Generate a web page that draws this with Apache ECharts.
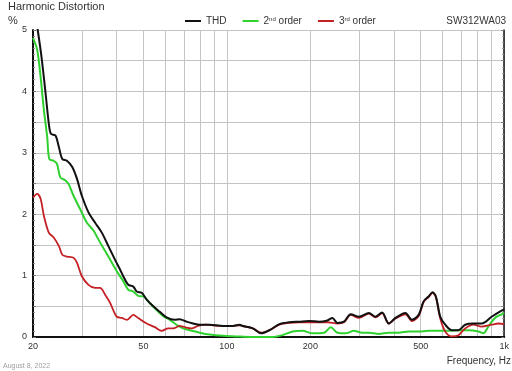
<!DOCTYPE html>
<html>
<head>
<meta charset="utf-8">
<script src="https://cdn.jsdelivr.net/npm/echarts@6/dist/echarts.min.js"></script>
<style>html,body{margin:0;padding:0;background:#fff}#c{width:512px;height:371px}</style>
</head>
<body>
<div id="c"></div>
<script>
// Frequencies (Hz) and values (%)
const thdFreq = [20, 20.8, 21.45, 22.2, 22.8, 23.2, 24.1, 24.8, 25.5, 26.5, 27.7, 28.8, 30.0, 31.7, 33.5, 35.4, 37.4, 39.5, 41.2, 42.3, 44.1, 46.0, 47.3, 49.3, 51.4, 54.3, 57.3, 60.6, 64.9, 67.6, 71.5, 75.5, 79.8, 86.7, 96.8, 105.1, 111.1, 114.1, 124.0, 132.9, 142.3, 154.6, 167.9, 182.4, 198.0, 215.1, 230.3, 240.1, 250.2, 264.4, 279.5, 299.3, 325.1, 343.6, 362.8, 383.5, 405.3, 440.2, 464.8, 491.3, 512, 533.6, 551.6, 566.9, 587.9, 612.7, 647, 683.9, 722.8, 774, 828.9, 900.3, 977.9, 1000];
const thdVal = [5.5, 5.0, 4.57, 3.97, 3.48, 3.31, 3.28, 3.09, 2.90, 2.87, 2.77, 2.58, 2.30, 2.03, 1.86, 1.70, 1.48, 1.26, 1.10, 0.99, 0.85, 0.82, 0.74, 0.72, 0.61, 0.50, 0.41, 0.32, 0.28, 0.29, 0.25, 0.22, 0.20, 0.20, 0.18, 0.18, 0.20, 0.18, 0.14, 0.06, 0.11, 0.21, 0.24, 0.25, 0.26, 0.25, 0.27, 0.31, 0.23, 0.25, 0.37, 0.33, 0.39, 0.33, 0.40, 0.22, 0.31, 0.39, 0.28, 0.36, 0.58, 0.66, 0.73, 0.66, 0.33, 0.20, 0.11, 0.11, 0.20, 0.22, 0.22, 0.33, 0.43, 0.45];

const h2Freq = [20, 20.7, 21.3, 21.9, 22.5, 22.9, 23.75, 24.4, 25.1, 26.2, 26.9, 28.0, 29.6, 31.3, 33.1, 34.4, 36.4, 38.5, 40.1, 42.3, 44.1, 46.0, 47.9, 50.0, 52.8, 55.8, 58.9, 62.3, 65.8, 69.5, 73.5, 79.8, 86.7, 96.8, 108.1, 120.6, 146.2, 158.8, 172.5, 187.4, 203.5, 224.1, 236.9, 250.2, 268.2, 287.2, 307.6, 325.1, 353.1, 383.5, 416.5, 452.4, 491.3, 533.6, 579.7, 629.6, 683.9, 742.8, 806.6, 840.6, 876.1, 925.9, 977.9, 1000];
const h2Val = [4.87, 4.68, 4.24, 3.69, 3.26, 2.90, 2.87, 2.82, 2.60, 2.55, 2.49, 2.30, 2.08, 1.86, 1.73, 1.59, 1.40, 1.21, 1.07, 0.91, 0.77, 0.74, 0.67, 0.66, 0.55, 0.44, 0.34, 0.28, 0.20, 0.14, 0.11, 0.07, 0.04, 0.02, 0.01, 0.0, 0.0, 0.03, 0.09, 0.10, 0.06, 0.07, 0.16, 0.07, 0.06, 0.10, 0.07, 0.07, 0.05, 0.07, 0.07, 0.09, 0.09, 0.10, 0.10, 0.10, 0.11, 0.11, 0.09, 0.06, 0.17, 0.31, 0.37, 0.39];

const h3Freq = [20, 20.7, 21.3, 21.9, 22.8, 23.75, 24.8, 25.5, 26.5, 28.0, 28.8, 30.0, 31.7, 33.5, 34.9, 36.4, 37.9, 39.0, 40.1, 41.8, 43.6, 46.0, 47.9, 51.4, 55.0, 58.2, 61.4, 64.0, 67.6, 70.5, 74.5, 78.7, 84.3, 94.2, 105.1, 111.1, 114.1, 124.0, 132.9, 142.3, 154.6, 167.9, 182.4, 198.0, 215.1, 230.3, 240.1, 250.2, 264.4, 279.5, 299.3, 325.1, 343.6, 362.8, 383.5, 405.3, 440.2, 464.8, 491.3, 512, 533.6, 551.6, 566.9, 587.9, 612.7, 647, 683.9, 722.8, 774, 828.9, 900.3, 951.6, 1000];
const h3Val = [2.27, 2.33, 2.25, 1.97, 1.70, 1.62, 1.48, 1.34, 1.31, 1.29, 1.21, 0.99, 0.85, 0.80, 0.80, 0.69, 0.56, 0.43, 0.33, 0.31, 0.28, 0.36, 0.31, 0.22, 0.16, 0.10, 0.14, 0.14, 0.18, 0.16, 0.14, 0.18, 0.20, 0.18, 0.18, 0.19, 0.18, 0.14, 0.07, 0.11, 0.20, 0.23, 0.24, 0.24, 0.24, 0.24, 0.23, 0.22, 0.24, 0.36, 0.31, 0.38, 0.32, 0.39, 0.22, 0.30, 0.37, 0.26, 0.34, 0.57, 0.65, 0.72, 0.65, 0.30, 0.09, 0.01, 0.03, 0.14, 0.20, 0.17, 0.20, 0.22, 0.21];

const gridFreqs = [20, 30, 40, 50, 60, 70, 80, 90, 100, 200, 300, 400, 500, 600, 700, 800, 900, 1000];
const labelFreqs = [20, 50, 100, 200, 500, 1000];

const pairs = (f, v) => f.map((x, i) => [x, v[i]]);

const chart = echarts.init(document.getElementById('c'), null, {renderer: 'canvas'});
const FONT = 'Liberation Sans, Arial, sans-serif';
const T = (text, pos, size, color) => Object.assign({text: text, padding: 0,
  textStyle: {fontSize: size, fontWeight: 'normal', color: color, fontFamily: FONT}}, pos);
chart.setOption({
  animation: false,
  backgroundColor: '#fff',
  textStyle: {fontFamily: FONT},
  title: [
    T('Harmonic Distortion', {left: 8, top: 1}, 11, '#333'),
    T('%', {left: 8, top: 15}, 11, '#333'),
    T('SW312WA03', {right: 6, top: 16}, 10, '#333'),
    T('Frequency, Hz', {right: 1, top: 356}, 10, '#333'),
    T('August 8, 2022', {left: 3, top: 363}, 7, '#a0a0a0')
  ],
  legend: {
    data: ['THD', '2nd order', '3rd order'],
    left: 180, top: 11,
    itemGap: 16, itemWidth: 16, itemHeight: 2,
    icon: 'rect',
    textStyle: {
      fontSize: 10, color: '#333', fontFamily: FONT,
      rich: {
        n: {fontSize: 10, color: '#333', fontFamily: FONT},
        s: {fontSize: 6, color: '#333', fontFamily: FONT, verticalAlign: 'top', padding: [0, 0, 4, 0]}
      }
    },
    formatter: function (name) {
      if (name === '2nd order') return '{n|2}{s|nd}{n| order}';
      if (name === '3rd order') return '{n|3}{s|rd}{n| order}';
      return '{n|' + name + '}';
    }
  },
  grid: {left: 33, right: 6, top: 30, bottom: 34, containLabel: false},
  xAxis: [
    {
      type: 'log', logBase: 10, min: 20, max: 1000, position: 'bottom',
      axisLine: {show: true, lineStyle: {color: '#111', width: 2}},
      axisTick: {show: false, customValues: gridFreqs},
      splitLine: {show: true, lineStyle: {color: '#c4c4c4', width: 1}},
      minorSplitLine: {show: false},
      axisLabel: {customValues: labelFreqs, fontSize: 9, color: '#333', margin: 5, fontFamily: FONT,
        formatter: v => (v === 1000 ? '1k' : String(v))}
    },
    {
      type: 'log', logBase: 10, min: 20, max: 1000, position: 'top',
      axisLine: {show: true, lineStyle: {color: '#111', width: 1.5}},
      axisTick: {show: false}, splitLine: {show: false}, axisLabel: {show: false}
    }
  ],
  yAxis: [
    {
      type: 'value', min: 0, max: 5, interval: 0.5, position: 'left',
      axisLine: {show: true, lineStyle: {color: '#111', width: 2}},
      axisTick: {show: true, inside: true, length: 3, lineStyle: {color: '#777'}},
      minorTick: {show: true, splitNumber: 5, length: 2, lineStyle: {color: '#888'}},
      splitLine: {show: true, lineStyle: {color: '#c4c4c4', width: 1}},
      axisLabel: {fontSize: 9, color: '#333', margin: 6, fontFamily: FONT,
        formatter: v => (Math.abs(v - Math.round(v)) < 1e-6 ? String(Math.round(v)) : '')}
    },
    {
      type: 'value', min: 0, max: 5, interval: 0.5, position: 'right',
      axisLine: {show: true, lineStyle: {color: '#111', width: 1.5}},
      axisTick: {show: true, inside: true, length: 3, lineStyle: {color: '#777'}},
      minorTick: {show: true, splitNumber: 5, length: 2, lineStyle: {color: '#888'}},
      splitLine: {show: false}, axisLabel: {show: false}
    }
  ],
  series: [
    {name: '2nd order', type: 'line', data: pairs(h2Freq, h2Val), smooth: 0.3, showSymbol: false, symbol: 'none',
      lineStyle: {color: '#2fd12f', width: 2}, itemStyle: {color: '#2fd12f'}, z: 2},
    {name: '3rd order', type: 'line', data: pairs(h3Freq, h3Val), smooth: 0.3, showSymbol: false, symbol: 'none',
      lineStyle: {color: '#c42126', width: 1.8}, itemStyle: {color: '#c42126'}, z: 3},
    {name: 'THD', type: 'line', data: pairs(thdFreq, thdVal), smooth: 0.3, showSymbol: false, symbol: 'none',
      lineStyle: {color: '#111', width: 2}, itemStyle: {color: '#111'}, z: 4}
  ]
});
</script>
</body>
</html>
